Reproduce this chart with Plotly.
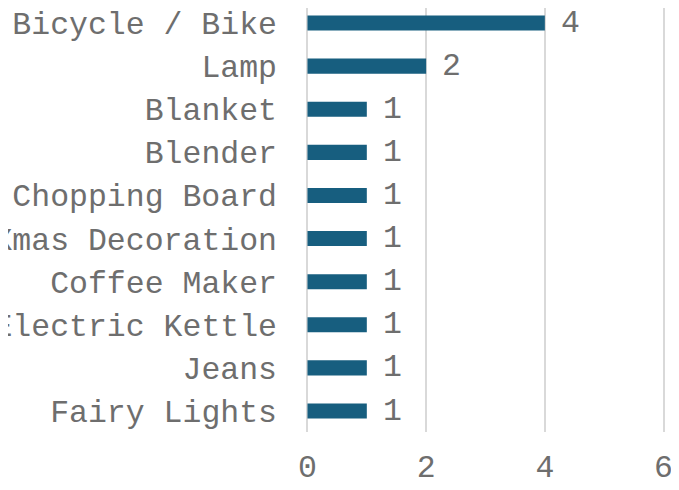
import plotly.graph_objects as go

categories = ["Bicycle / Bike", "Lamp", "Blanket", "Blender", "Chopping Board",
              "Xmas Decoration", "Coffee Maker", "Electric Kettle", "Jeans", "Fairy Lights"]
values = [4, 2, 1, 1, 1, 1, 1, 1, 1, 1]
x_ticks = [0, 2, 4, 6]

FONT = "Liberation Mono, Courier New, monospace"
GRAY = "#6e6e6e"
SIZE = 31.5
GRID = "#d9d9d9"

fig = go.Figure(go.Bar(
    y=categories, x=values, orientation="h",
    marker=dict(color="#175e7f", line=dict(width=0)),
    width=0.35,
    cliponaxis=False,
))

for c, v in zip(categories, values):
    fig.add_annotation(x=v, y=c, text=str(v), showarrow=False, xanchor="left",
                       xshift=14, font=dict(family=FONT, size=SIZE, color=GRAY))

n = len(categories)
fig.update_layout(
    width=679, height=490,
    margin=dict(l=298, r=22, t=0, b=66, autoexpand=False),
    paper_bgcolor="white", plot_bgcolor="white",
    font=dict(family=FONT, size=SIZE, color=GRAY),
    showlegend=False,
)
fig.update_xaxes(range=[-0.025, 6.025], tickvals=x_ticks, showgrid=True, gridcolor=GRID,
                 gridwidth=1.5, zeroline=True, zerolinecolor=GRID, zerolinewidth=1.5,
                 showline=False, ticks="", automargin=False,
                 ticklabelstandoff=12, tickfont=dict(family=FONT, size=SIZE, color=GRAY))
fig.update_yaxes(categoryorder="array", categoryarray=categories[::-1],
                 range=[-0.487, n - 1 + 0.348],
                 showgrid=False, zeroline=False, showline=False, ticks="", automargin=False,
                 ticklabelstandoff=28, tickfont=dict(family=FONT, size=SIZE, color=GRAY))

fig.write_html("out.html")
